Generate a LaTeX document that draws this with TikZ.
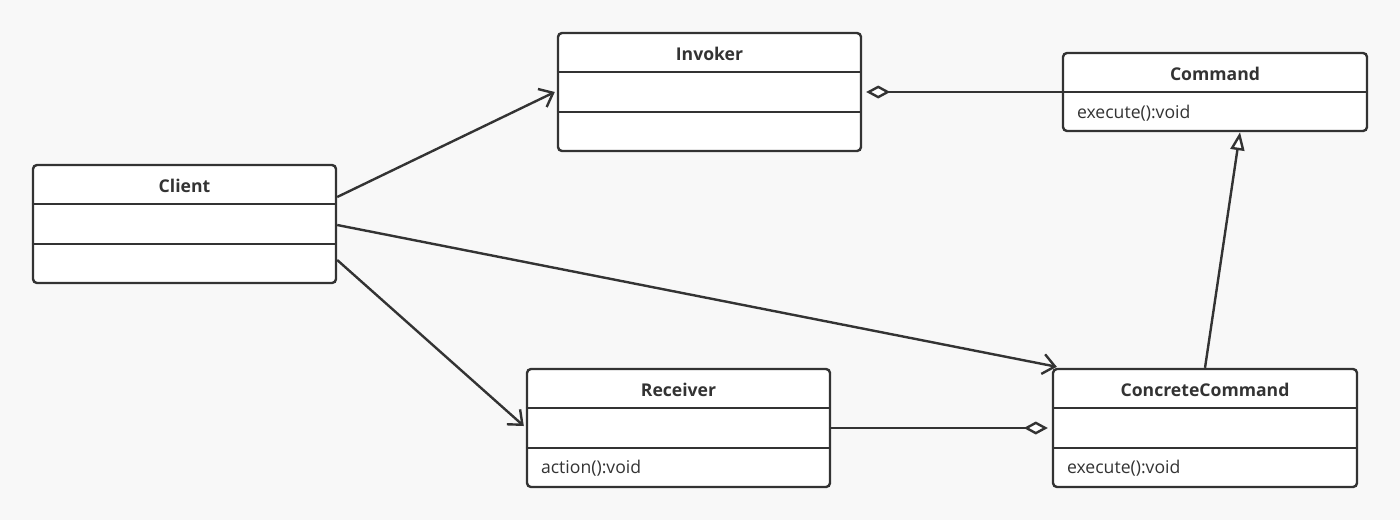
\documentclass[tikz,border=0pt]{standalone}
\usepackage{fontspec}
\setmainfont{Open Sans}
\usetikzlibrary{arrows.meta}
\definecolor{bg}{HTML}{F8F8F8}
\definecolor{ink}{HTML}{333333}
\tikzset{
  umlbox/.style={draw=ink, fill=white, line width=1.2pt, rounded corners=2pt, inner sep=0pt},
  divider/.style={draw=ink, line width=1.2pt},
  ttl/.style={font=\bfseries\fontsize{8.8}{10}\selectfont, text=ink},
  member/.style={font=\fontsize{8.8}{10}\selectfont, text=ink, anchor=west},
  conn/.style={draw=ink, line width=1.2pt},
  dep/.style={conn, -{Straight Barb[length=6pt,width=10pt,line width=1.2pt]}},
  inh/.style={conn, -{Triangle[open,length=9pt,width=7pt,line width=1.2pt,fill=white]}}
}
% \umlcls{name}{left}{top}{right}{bottom}{div1}{div2}{title}
\newcommand{\umlcls}[8]{%
  \node[umlbox, minimum width={(#4-#2)*0.5pt}, minimum height={(#5-#3)*0.5pt}] (#1) at ({(#2+#4)/2},{(#3+#5)/2}) {};
  \node[ttl] (#1-t) at ({(#2+#4)/2},{(#3+#6)/2+1}) {#8};
  \draw[divider] (#1.west |- 0,#6) -- (#1.east |- 0,#6);
  \ifx\relax#7\relax\else\draw[divider] (#1.west |- 0,#7) -- (#1.east |- 0,#7);\fi
}
\begin{document}
\begin{tikzpicture}[x=0.5pt,y=-0.5pt]
\fill[bg] (0,0) rectangle (1400,520);
\useasboundingbox (0,0) rectangle (1400,520);

\umlcls{invoker}{558}{33}{861}{151}{72}{112}{Invoker}
\umlcls{command}{1063}{53}{1367}{131}{92}{}{Command}
\umlcls{client}{33}{165}{336}{283}{204}{244}{Client}
\umlcls{receiver}{527}{369}{830}{487}{408}{448}{Receiver}
\umlcls{concrete}{1053}{369}{1357}{487}{408}{448}{ConcreteCommand}

\node[member] (command-op) at (1070,113) {execute():void};
\node[member] (receiver-op) at (534,468) {action():void};
\node[member] (concrete-op) at (1060,468) {execute():void};

\draw[dep] ([yshift=13.5pt]client.east) -- ([xshift=-1pt]invoker.west);
\draw[dep] ([yshift=-0.5pt]client.east) -- ([xshift=2.5pt,yshift=0.5pt]concrete.north west);
\draw[dep] ([yshift=-18pt]client.east) -- ([xshift=-1pt,yshift=1pt]receiver.west);
\draw[conn, {Diamond[open,length=12pt,width=6.5pt,line width=1.2pt,fill=white]}-] ([xshift=2pt]invoker.east) -- (command.west);
\draw[conn, -{Diamond[open,length=12pt,width=6.5pt,line width=1.2pt,fill=white]}] (receiver.east) -- ([xshift=-2pt]concrete.west);
\draw[inh] (concrete.north) -- ([xshift=12.5pt]command.south);
\end{tikzpicture}
\end{document}
